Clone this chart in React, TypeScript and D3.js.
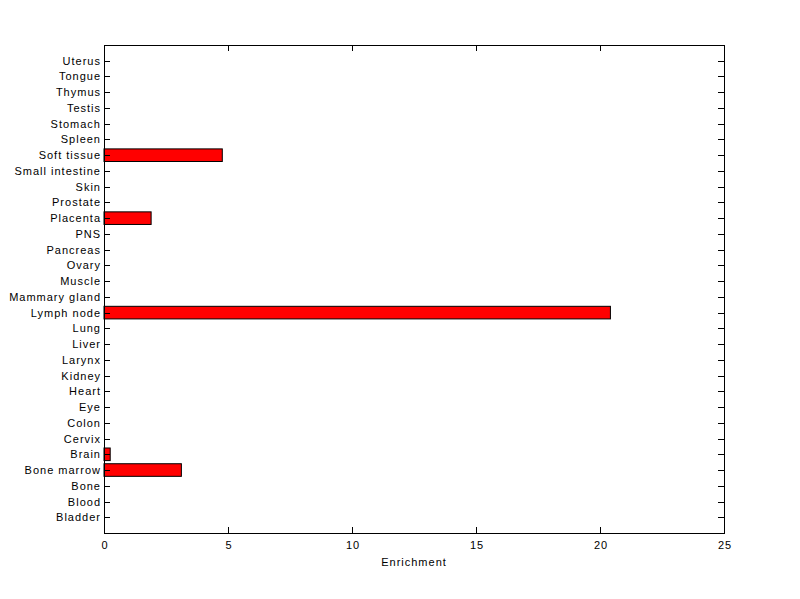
import * as d3 from 'd3'

// tissue categories, bottom to top
const TISSUES = [
  'Bladder', 'Blood', 'Bone', 'Bone marrow', 'Brain', 'Cervix', 'Colon', 'Eye',
  'Heart', 'Kidney', 'Larynx', 'Liver', 'Lung', 'Lymph node', 'Mammary gland',
  'Muscle', 'Ovary', 'Pancreas', 'PNS', 'Placenta', 'Prostate', 'Skin',
  'Small intestine', 'Soft tissue', 'Spleen', 'Stomach', 'Testis', 'Thymus',
  'Tongue', 'Uterus',
]

// enrichment per tissue (same order)
const ENRICHMENT = [
  0, 0, 0, 3.12, 0.25, 0, 0, 0,
  0, 0, 0, 0, 0, 20.42, 0,
  0, 0, 0, 0, 1.9, 0, 0,
  0, 4.77, 0, 0, 0, 0,
  0, 0,
]

const X_TICKS = [0, 5, 10, 15, 20, 25]

const W = 800
const H = 599
const M = { left: 104, right: 76, top: 45, bottom: 66 }
const FONT = '"Liberation Sans", Arial, Helvetica, sans-serif'

export default function App() {
  const x = d3.scaleLinear().domain([0, 25]).range([M.left, W - M.right])
  const y = d3.scaleLinear().domain([0, TISSUES.length + 1]).range([H - M.bottom, M.top])
  const barH = (y(0) - y(1)) * 0.8
  const tick = 6
  const x0 = M.left
  const x1 = W - M.right
  const yTop = M.top
  const yBot = H - M.bottom
  const txt = { fontSize: 11, fill: '#000', letterSpacing: 1 }

  return (
    <div style={{ position: 'absolute', left: 0, top: 0 }}>
      <svg width={W} height={H} style={{ display: 'block', background: '#fff' }} fontFamily={FONT}>
        <rect x={0} y={0} width={W} height={H} fill="#fff" />

        {/* bars */}
        {TISSUES.map((t, i) =>
          ENRICHMENT[i] > 0 ? (
            <rect
              key={t}
              x={x(0)}
              y={y(i + 1) - barH / 2}
              width={x(ENRICHMENT[i]) - x(0)}
              height={barH}
              fill="#ff0000"
              stroke="#000"
              strokeWidth={1}
            />
          ) : null
        )}

        {/* y ticks and labels */}
        {TISSUES.map((t, i) => {
          const yy = Math.round(y(i + 1)) + 0.5
          return (
            <g key={t}>
              <line x1={x0} x2={x0 + tick} y1={yy} y2={yy} stroke="#000" />
              <line x1={x1 - tick} x2={x1} y1={yy} y2={yy} stroke="#000" />
              <text x={x0 - 3} y={yy} dy="0.35em" textAnchor="end" {...txt}>
                {t}
              </text>
            </g>
          )
        })}

        {/* x ticks and labels */}
        {X_TICKS.map(v => {
          const xx = Math.round(x(v)) + 0.5
          return (
            <g key={v}>
              <line x1={xx} x2={xx} y1={yBot} y2={yBot - tick} stroke="#000" />
              <line x1={xx} x2={xx} y1={yTop} y2={yTop + tick} stroke="#000" />
              <text x={xx + 0.5} y={yBot + 16} textAnchor="middle" {...txt}>
                {v}
              </text>
            </g>
          )
        })}

        {/* axes box */}
        <rect
          x={x0 + 0.5}
          y={yTop + 0.5}
          width={x1 - x0}
          height={yBot - yTop}
          fill="none"
          stroke="#000"
          strokeWidth={1}
        />

        <text x={(x0 + x1) / 2} y={yBot + 33} textAnchor="middle" {...txt}>
          Enrichment
        </text>
      </svg>
    </div>
  )
}
